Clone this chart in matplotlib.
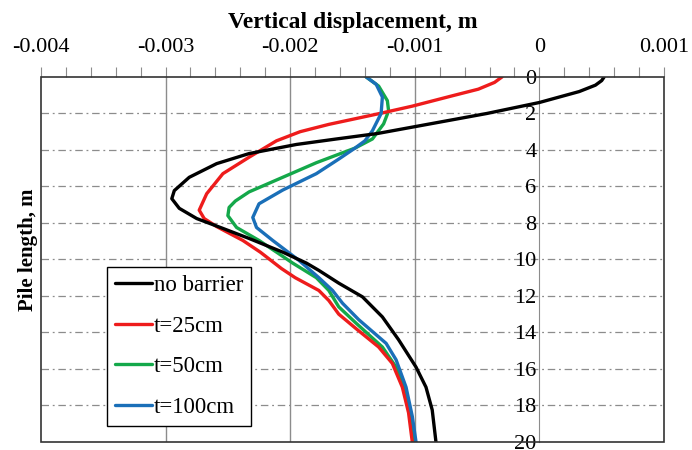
import numpy as np
import matplotlib.pyplot as plt
from matplotlib.ticker import AutoMinorLocator
from matplotlib.patches import Rectangle

plt.rcParams["font.family"] = ["Liberation Serif", "DejaVu Serif"]

# data: depth (m) and vertical displacement (m)
depth_nb = [0, 0.2, 0.45, 0.8, 1.1, 1.4, 2.0, 2.7, 3.1, 3.4, 3.7, 4.2, 4.75,
            5.5, 6.23, 6.67, 7.2, 7.76, 8.3, 8.85, 9.6, 10.2, 10.6, 11.3,
            12.05, 13.15, 14.4, 15.9, 17.0, 18.25, 20]
disp_nb = [0.00052, 0.0005, 0.00045, 0.00032, 0.00016, 0.0, -0.00042,
           -0.00098, -0.0013, -0.00163, -0.00195, -0.00233, -0.00259,
           -0.00281, -0.00293, -0.00295, -0.00289, -0.00275, -0.00254,
           -0.00233, -0.00206, -0.00187, -0.00177, -0.00161, -0.00142,
           -0.00126, -0.00113, -0.00099, -0.00091, -0.00086, -0.00083]

depth_25 = [0, 0.3, 0.67, 1.0, 1.6, 2.0, 2.6, 3.0, 3.5, 4.4, 5.3, 6.4, 7.3,
            7.76, 8.2, 8.96, 9.6, 10.5, 11.0, 11.7, 12.25, 13.0, 13.8, 14.8,
            15.7, 17.0, 18.4, 20]
disp_25 = [-0.0003, -0.00036, -0.00049, -0.00068, -0.00102, -0.00128,
           -0.00169, -0.00192, -0.00211, -0.00233, -0.00254, -0.00267,
           -0.00273, -0.00269, -0.00259, -0.00238, -0.00224, -0.00207,
           -0.00196, -0.00177, -0.00169, -0.00161, -0.00147, -0.00129,
           -0.00118, -0.0011, -0.00105, -0.00102]

depth_50 = [0, 0.5, 1.3, 1.86, 2.57, 3.4, 3.9, 4.7, 5.5, 6.3, 6.8, 7.15, 7.6,
            8.25, 8.96, 9.6, 10.2, 11.0, 11.7, 12.6, 13.5, 14.8, 15.9, 17.3,
            18.8, 20]
disp_50 = [-0.00139, -0.00129, -0.00122, -0.00121, -0.00125, -0.00134,
           -0.00148, -0.00179, -0.00206, -0.00233, -0.00244, -0.00249,
           -0.0025, -0.00243, -0.00225, -0.00211, -0.00198, -0.00179,
           -0.00169, -0.00161, -0.00147, -0.00126, -0.00115, -0.00107,
           -0.00102, -0.00101]

depth_100 = [0, 0.4, 1.1, 2.0, 2.95, 3.5, 3.9, 4.5, 5.3, 6.2, 6.95, 7.7,
             8.25, 8.96, 10.05, 11.0, 11.7, 12.4, 13.3, 14.6, 15.5, 17.0,
             18.6, 20]
disp_100 = [-0.00139, -0.00131, -0.00126, -0.00127, -0.00134, -0.0014,
            -0.00148, -0.00161, -0.00179, -0.00206, -0.00225, -0.0023,
            -0.00227, -0.00214, -0.00193, -0.00177, -0.00166, -0.00158,
            -0.00145, -0.00123, -0.00115, -0.00107, -0.00102, -0.00099]

x_ticks = [-0.004, -0.003, -0.002, -0.001, 0, 0.001]
x_labels = ["-0.004", "-0.003", "-0.002", "-0.001", "0", "0.001"]
y_ticks = [0, 2, 4, 6, 8, 10, 12, 14, 16, 18, 20]

fig = plt.figure(figsize=(6.92, 4.5), dpi=100)
ax = fig.add_axes([0.0592, 0.018, 0.9003, 0.811])

kw = dict(lw=2.4, solid_joinstyle="round", solid_capstyle="round")
ax.plot(disp_nb, depth_nb, color="black", label="no barrier", zorder=5, **kw)
ax.plot(disp_25, depth_25, color="#ee1c1c", label="t=25cm", zorder=4, **kw)
ax.plot(disp_50, depth_50, color="#14a84a", label="t=50cm", zorder=3, **kw)
ax.plot(disp_100, depth_100, color="#1a6fb8", label="t=100cm", zorder=4, **kw)

ax.set_xlim(-0.004, 0.001)
ax.set_ylim(20, 0)

# x axis on top
ax.xaxis.tick_top()
ax.xaxis.set_label_position("top")
ax.set_xticks(x_ticks)
ax.set_xticklabels(x_labels, fontsize=16)
ax.xaxis.set_minor_locator(AutoMinorLocator(5))
ax.tick_params(axis="x", which="both", direction="out", length=7, width=0.8,
               color="#8c8c8c", pad=7.5)
ax.set_xlabel("Vertical displacement, m", fontsize=17, fontweight="bold",
              labelpad=7)

# y axis crosses at x = 0
ax.spines["left"].set_position(("data", 0))
ax.spines["left"].set_color("#8c8c8c")
ax.spines["left"].set_zorder(1)
for s in ["top", "right", "bottom"]:
    ax.spines[s].set_visible(False)
ax.set_yticks(y_ticks)
ax.tick_params(axis="y", length=0, pad=2, labelsize=16)

fig.text(0.04, 0.444, "Pile length, m", rotation=90, fontsize=15,
         fontweight="bold", ha="center", va="center")

# grid
for xv in x_ticks[1:4]:
    ax.axvline(xv, color="#8c8c8c", lw=1, zorder=1)
for yv in y_ticks[1:-1]:
    ax.axhline(yv, color="#8c8c8c", lw=0.9, ls=(0, (6, 3, 1.5, 3)), zorder=1)

ax.add_patch(Rectangle((0, 0), 1, 1, transform=ax.transAxes, fill=False,
                       ec="#333333", lw=1.2, clip_on=False, zorder=6))

leg = ax.legend(loc="upper left", bbox_to_anchor=(0.106, 0.479),
                borderaxespad=0, fontsize=16.5, handlelength=1.6,
                handletextpad=0.1, labelspacing=0.85, fancybox=False,
                framealpha=1, edgecolor="black", borderpad=0.35)
leg.get_frame().set_linewidth(1.0)
leg.set_zorder(7)

fig.savefig("out.png", dpi=100)
